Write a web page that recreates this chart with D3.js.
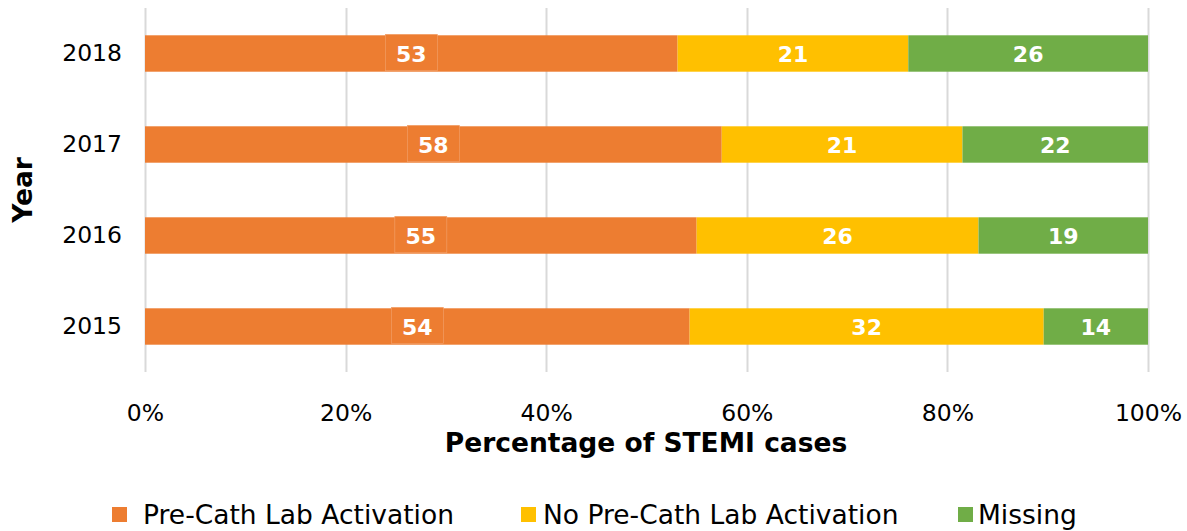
<!DOCTYPE html>
<html>
<head>
<meta charset="utf-8">
<script src="https://cdn.jsdelivr.net/npm/d3@7"></script>
<style>
  body { margin: 0; background: #fff; }
  text { font-family: "DejaVu Sans", Verdana, sans-serif; }
</style>
</head>
<body>
<svg id="chart" width="1187" height="531"></svg>
<script>
// data
var years = ["2018", "2017", "2016", "2015"];
var preCath = [53.1, 57.5, 55.0, 54.3];
var noPreCath = [23.0, 24.0, 28.1, 35.3];
var missing = [23.9, 18.5, 16.9, 10.4];
// the printed labels
var preCathLabels = [53, 58, 55, 54];
var noPreCathLabels = [21, 21, 26, 32];
var missingLabels = [26, 22, 19, 14];
var seriesNames = ["Pre-Cath Lab Activation", "No Pre-Cath Lab Activation", "Missing"];
var colors = ["#ED7D31", "#FFC000", "#70AD47"];
var xTicks = [0, 20, 40, 60, 80, 100];

var svg = d3.select("#chart"),
    width = +svg.attr("width"),
    height = +svg.attr("height");

var x = d3.scaleLinear().domain([0, 100]).range([145, 1148]);
var y = d3.scaleBand().domain(years).range([8, 372]).paddingInner(0.6).paddingOuter(0.3);

var rows = years.map(function (yr, i) {
    return {year: yr, pre: preCath[i], no: noPreCath[i], miss: missing[i],
            labels: [preCathLabels[i], noPreCathLabels[i], missingLabels[i]]};
});
var stack = d3.stack().keys(["pre", "no", "miss"]);
var series = stack(rows);

// grid
svg.append("g")
    .selectAll("line")
    .data(xTicks)
    .enter().append("line")
    .attr("x1", function (d) { return Math.round(x(d)) + 0.5; })
    .attr("x2", function (d) { return Math.round(x(d)) + 0.5; })
    .attr("y1", 8)
    .attr("y2", 372)
    .attr("stroke", "#D9D9D9")
    .attr("stroke-width", 2);

// bars
var layer = svg.append("g")
    .selectAll("g")
    .data(series)
    .enter().append("g")
    .attr("fill", function (d, i) { return colors[i]; });

layer.selectAll("rect")
    .data(function (d) { return d; })
    .enter().append("rect")
    .attr("x", function (d) { return x(d[0]); })
    .attr("width", function (d) { return x(d[1]) - x(d[0]); })
    .attr("y", function (d) { return y(d.data.year); })
    .attr("height", y.bandwidth());

// label boxes on the orange segment
svg.append("g")
    .selectAll("rect")
    .data(series[0])
    .enter().append("rect")
    .attr("x", function (d) { return (x(d[0]) + x(d[1])) / 2 - 26; })
    .attr("y", function (d) { return y(d.data.year) - 1; })
    .attr("width", 52)
    .attr("height", y.bandwidth())
    .attr("fill", colors[0])
    .attr("stroke", "#F2A36E")
    .attr("stroke-width", 0.6);

// value labels
series.forEach(function (s, k) {
    svg.append("g")
        .selectAll("text")
        .data(s)
        .enter().append("text")
        .attr("x", function (d) { return (x(d[0]) + x(d[1])) / 2; })
        .attr("y", function (d) { return y(d.data.year) + y.bandwidth() / 2 + 1; })
        .attr("dy", "0.35em")
        .attr("text-anchor", "middle")
        .attr("fill", "#fff")
        .attr("font-weight", "bold")
        .attr("font-size", "22px")
        .text(function (d) { return d.data.labels[k]; });
});

// axes
var xAxis = svg.append("g")
    .attr("transform", "translate(0,372)")
    .call(d3.axisBottom(x).tickValues(xTicks).tickSize(0).tickPadding(32)
        .tickFormat(function (d) { return d + "%"; }));
xAxis.select(".domain").remove();
xAxis.selectAll("text").attr("font-size", "23.5px").attr("fill", "#000")
    .style("font-family", "DejaVu Sans, Verdana, sans-serif");

var yAxis = svg.append("g")
    .attr("transform", "translate(122,0)")
    .call(d3.axisLeft(y).tickSize(0).tickPadding(0));
yAxis.select(".domain").remove();
yAxis.selectAll("text").attr("font-size", "23.5px").attr("fill", "#000")
    .style("font-family", "DejaVu Sans, Verdana, sans-serif");

svg.append("text")
    .attr("x", 646)
    .attr("y", 452)
    .attr("text-anchor", "middle")
    .attr("font-size", "26.5px")
    .attr("font-weight", "bold")
    .text("Percentage of STEMI cases");

svg.append("text")
    .attr("transform", "translate(32,190) rotate(-90)")
    .attr("text-anchor", "middle")
    .attr("font-size", "26.5px")
    .attr("font-weight", "bold")
    .text("Year");

// legend
var legendX = [112, 521, 958];
var legend = svg.append("g")
    .selectAll("g")
    .data(seriesNames)
    .enter().append("g")
    .attr("transform", function (d, i) { return "translate(" + legendX[i] + ",507)"; });

legend.append("rect")
    .attr("width", 15)
    .attr("height", 15)
    .attr("fill", function (d, i) { return colors[i]; });

legend.append("text")
    .attr("x", function (d, i) { return i == 0 ? 31 : (i == 1 ? 22 : 20); })
    .attr("y", 8)
    .attr("dy", "0.35em")
    .attr("font-size", "26.5px")
    .text(function (d) { return d; });
</script>
</body>
</html>
